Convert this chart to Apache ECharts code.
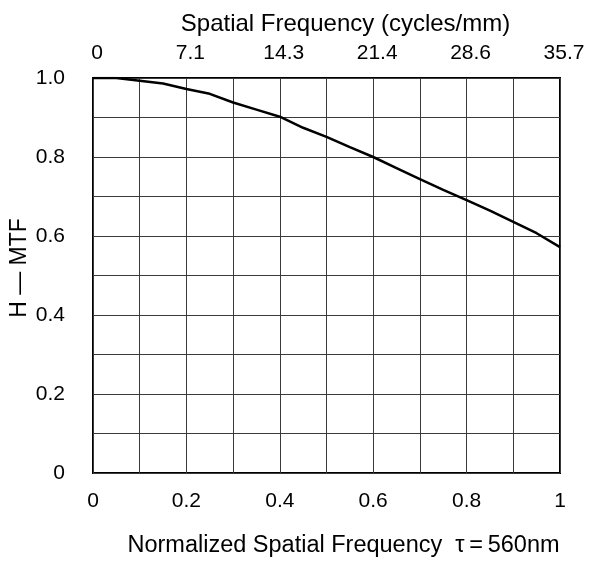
<!DOCTYPE html>
<html>
<head>
<meta charset="utf-8">
<script src="https://cdn.jsdelivr.net/npm/echarts@6/dist/echarts.min.js"></script>
<style>html,body{margin:0;padding:0;background:#fff}#c{width:594px;height:561px}</style>
</head>
<body>
<div id="c"></div>
<script>
var xValues = [0, 0.05, 0.1, 0.15, 0.2, 0.25, 0.3, 0.35, 0.4, 0.45, 0.5, 0.55, 0.6, 0.65, 0.7, 0.75, 0.8, 0.85, 0.9, 0.95, 1.0];
var mtfValues = [1.0, 1.0, 0.993, 0.986, 0.972, 0.96, 0.938, 0.92, 0.902, 0.874, 0.851, 0.825, 0.80, 0.772, 0.744, 0.717, 0.691, 0.664, 0.636, 0.607, 0.572];
var topTickLabels = ['0', '7.1', '14.3', '21.4', '28.6', '35.7'];
var bottomTickLabels = ['0', '0.2', '0.4', '0.6', '0.8', '1'];
var yTickLabels = ['0', '0.2', '0.4', '0.6', '0.8', '1.0'];

var FONT = 'Liberation Sans, Arial, sans-serif';
var gridColor = '#3a3a3a';

var chart = echarts.init(document.getElementById('c'));
var splitCommon = { show: true, lineStyle: { color: gridColor, width: 1 } };
chart.setOption({
  animation: false,
  backgroundColor: '#fff',
  grid: { left: 93, right: 34, top: 78, bottom: 88, show: true, borderColor: '#000', borderWidth: 2, backgroundColor: 'transparent', containLabel: false, outerBoundsMode: 'none' },
  xAxis: [{
    type: 'value', min: 0, max: 1, interval: 0.2, position: 'bottom',
    name: 'Normalized Spatial Frequency  \u03c4\u2009=\u2009560nm', nameLocation: 'middle', nameGap: 61,
    nameMoveOverlap: false,
    nameTextStyle: { fontFamily: FONT, fontSize: 23.5, color: '#000', padding: [0, 0, 0, 34] },
    axisLine: { show: false }, axisTick: { show: false },
    axisLabel: { fontFamily: FONT, fontSize: 21, color: '#000', margin: 18,
      formatter: function (v) { return bottomTickLabels[Math.round(v / 0.2)]; } },
    splitLine: splitCommon,
    minorTick: { show: false, splitNumber: 2 },
    minorSplitLine: splitCommon
  }, {
    type: 'value', min: 0, max: 1, interval: 0.2, position: 'top',
    name: 'Spatial Frequency (cycles/mm)', nameLocation: 'middle', nameGap: 42,
    nameMoveOverlap: false,
    nameTextStyle: { fontFamily: FONT, fontSize: 24, color: '#000', padding: [0, 0, 0, 38] },
    axisLine: { show: false }, axisTick: { show: false },
    axisLabel: { fontFamily: FONT, fontSize: 21, color: '#000', margin: 14, padding: [0, 0, 0, 8],
      formatter: function (v) { return topTickLabels[Math.round(v / 0.2)]; } },
    splitLine: { show: false }
  }],
  yAxis: [{
    type: 'value', min: 0, max: 1, interval: 0.2,
    name: 'H \u2014 MTF', nameLocation: 'middle', nameGap: 62, nameRotate: 90,
    nameMoveOverlap: false,
    nameTextStyle: { fontFamily: FONT, fontSize: 23, color: '#000', padding: [0, 0, 0, 15] },
    axisLine: { show: false }, axisTick: { show: false },
    axisLabel: { fontFamily: FONT, fontSize: 21, color: '#000', margin: 28,
      formatter: function (v) { return yTickLabels[Math.round(v / 0.2)]; } },
    splitLine: splitCommon,
    minorTick: { show: false, splitNumber: 2 },
    minorSplitLine: splitCommon
  }],
  series: [{
    type: 'line', xAxisIndex: 0, yAxisIndex: 0,
    data: xValues.map(function (x, i) { return [x, mtfValues[i]]; }),
    symbol: 'none', smooth: false,
    lineStyle: { color: '#000', width: 2.5 }
  }]
});
</script>
</body>
</html>
